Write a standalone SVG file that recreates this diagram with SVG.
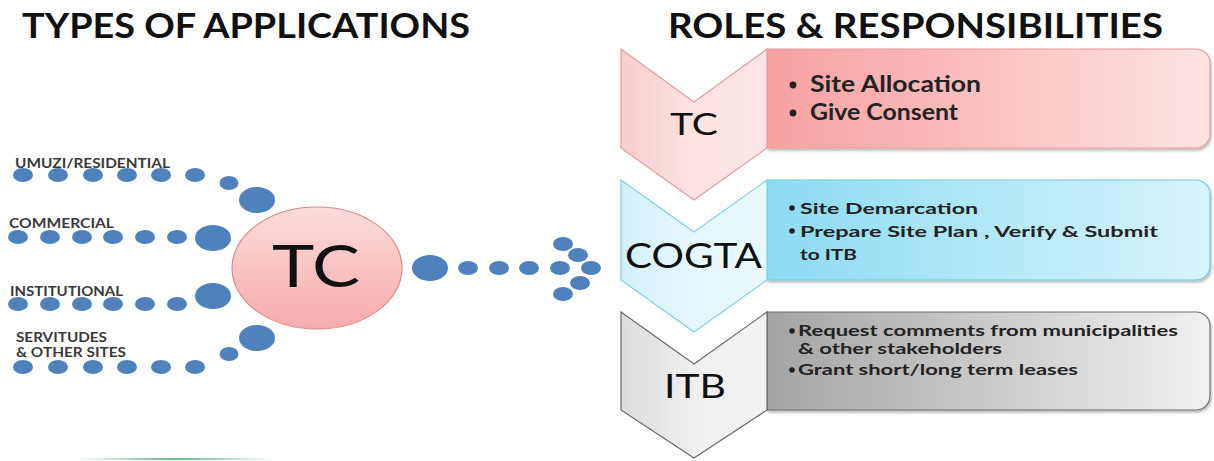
<svg xmlns="http://www.w3.org/2000/svg" width="1214" height="461" viewBox="0 0 1214 461">
  <style>
    .title { font-family: Lato, "Open Sans", "Liberation Sans", sans-serif; font-weight: 700; font-size: 34px; fill: #111; }
    .cat { font-family: Lato, "Liberation Sans", sans-serif; font-weight: 700; font-size: 12.4px; fill: #3a3a3a; }
    .chev-label { font-family: Lato, "Open Sans", "Liberation Sans", sans-serif; font-weight: 400; fill: #111; }
    .item { font-family: Lato, "Liberation Sans", sans-serif; font-weight: 700; fill: #222; }
    .dot { fill: #4f81bd; }
    .bullet { fill: #222; }
  </style>
  <defs>
    <linearGradient id="tcBody" x1="0" y1="0" x2="0" y2="1">
      <stop offset="0" stop-color="#fcdcdc"/>
      <stop offset="1" stop-color="#f6abab"/>
    </linearGradient>
    <linearGradient id="redChev" x1="0" y1="0" x2="1" y2="0">
      <stop offset="0" stop-color="#f9cdcd"/>
      <stop offset="0.5" stop-color="#fde3e3"/>
      <stop offset="1" stop-color="#fde5e5"/>
    </linearGradient>
    <linearGradient id="redBox" x1="0" y1="0" x2="1" y2="0">
      <stop offset="0" stop-color="#f7a0a0"/>
      <stop offset="1" stop-color="#fde3e3"/>
    </linearGradient>
    <linearGradient id="blueChev" x1="0" y1="0" x2="1" y2="0">
      <stop offset="0" stop-color="#d2f0f9"/>
      <stop offset="0.5" stop-color="#e6f8fd"/>
      <stop offset="1" stop-color="#e9f9fd"/>
    </linearGradient>
    <linearGradient id="blueBox" x1="0" y1="0" x2="1" y2="0">
      <stop offset="0" stop-color="#8cdbf3"/>
      <stop offset="1" stop-color="#d8f4fc"/>
    </linearGradient>
    <linearGradient id="greyChev" x1="0" y1="0" x2="1" y2="0">
      <stop offset="0" stop-color="#dcdcdc"/>
      <stop offset="0.5" stop-color="#efefef"/>
      <stop offset="1" stop-color="#f2f2f2"/>
    </linearGradient>
    <linearGradient id="greyBox" x1="0" y1="0" x2="1" y2="0">
      <stop offset="0" stop-color="#a4a4a4"/>
      <stop offset="1" stop-color="#f1f1f1"/>
    </linearGradient>
    <linearGradient id="floorLine" x1="0" y1="0" x2="1" y2="0">
      <stop offset="0" stop-color="#3aa56e" stop-opacity="0"/>
      <stop offset="0.5" stop-color="#3aa56e" stop-opacity="0.8"/>
      <stop offset="1" stop-color="#3aa56e" stop-opacity="0"/>
    </linearGradient>
    <filter id="shadow" x="-5%" y="-10%" width="110%" height="130%">
      <feDropShadow dx="1" dy="2" stdDeviation="1.5" flood-color="#000" flood-opacity="0.3"/>
    </filter>
  </defs>

  <rect width="1214" height="461" fill="#ffffff"/>

  <!-- headings -->
  <text class="title" x="22" y="38" textLength="448" lengthAdjust="spacingAndGlyphs">TYPES OF APPLICATIONS</text>
  <text class="title" x="668" y="38" textLength="495" lengthAdjust="spacingAndGlyphs">ROLES &amp; RESPONSIBILITIES</text>

  <!-- application categories -->
  <g id="cat-residential">
    <text class="cat" x="15" y="168" textLength="155" lengthAdjust="spacingAndGlyphs">UMUZI/RESIDENTIAL</text>
  </g>
  <g id="cat-commercial">
    <text class="cat" x="9" y="228" textLength="105" lengthAdjust="spacingAndGlyphs">COMMERCIAL</text>
  </g>
  <g id="cat-institutional">
    <text class="cat" x="10" y="296" textLength="113" lengthAdjust="spacingAndGlyphs">INSTITUTIONAL</text>
  </g>
  <g id="cat-servitudes">
    <text class="cat" x="16" y="342" textLength="91" lengthAdjust="spacingAndGlyphs">SERVITUDES</text>
    <text class="cat" x="16" y="357" textLength="110" lengthAdjust="spacingAndGlyphs">&amp; OTHER SITES</text>
  </g>

  <!-- dotted trails -->
  <g id="connectors">
    <!-- residential trail -->
    <ellipse class="dot" cx="23" cy="175" rx="10" ry="7"/>
    <ellipse class="dot" cx="58" cy="175" rx="10" ry="7"/>
    <ellipse class="dot" cx="93" cy="175" rx="10" ry="7"/>
    <ellipse class="dot" cx="127" cy="175" rx="10" ry="7"/>
    <ellipse class="dot" cx="161" cy="175" rx="10" ry="7"/>
    <ellipse class="dot" cx="195" cy="175" rx="10" ry="7"/>
    <ellipse class="dot" cx="229" cy="183" rx="9.5" ry="7"/>
    <ellipse class="dot" cx="257" cy="200" rx="18" ry="13"/>
    <!-- commercial trail -->
    <ellipse class="dot" cx="18" cy="237" rx="10" ry="7"/>
    <ellipse class="dot" cx="50" cy="237" rx="10" ry="7"/>
    <ellipse class="dot" cx="82" cy="237" rx="10" ry="7"/>
    <ellipse class="dot" cx="113" cy="237" rx="10" ry="7"/>
    <ellipse class="dot" cx="145" cy="237" rx="10" ry="7"/>
    <ellipse class="dot" cx="177" cy="237" rx="10" ry="7"/>
    <ellipse class="dot" cx="213" cy="238" rx="18" ry="13"/>
    <!-- institutional trail -->
    <ellipse class="dot" cx="18" cy="304" rx="10" ry="7"/>
    <ellipse class="dot" cx="50" cy="304" rx="10" ry="7"/>
    <ellipse class="dot" cx="82" cy="304" rx="10" ry="7"/>
    <ellipse class="dot" cx="113" cy="304" rx="10" ry="7"/>
    <ellipse class="dot" cx="145" cy="304" rx="10" ry="7"/>
    <ellipse class="dot" cx="177" cy="304" rx="10" ry="7"/>
    <ellipse class="dot" cx="213" cy="296" rx="18" ry="13"/>
    <!-- servitudes trail -->
    <ellipse class="dot" cx="23" cy="367" rx="10" ry="7"/>
    <ellipse class="dot" cx="58" cy="367" rx="10" ry="7"/>
    <ellipse class="dot" cx="93" cy="367" rx="10" ry="7"/>
    <ellipse class="dot" cx="127" cy="367" rx="10" ry="7"/>
    <ellipse class="dot" cx="161" cy="367" rx="10" ry="7"/>
    <ellipse class="dot" cx="195" cy="367" rx="10" ry="7"/>
    <ellipse class="dot" cx="229" cy="354" rx="9.5" ry="7"/>
    <ellipse class="dot" cx="257" cy="338" rx="18" ry="13"/>
    <!-- outgoing dotted arrow -->
    <ellipse class="dot" cx="430" cy="268" rx="18" ry="13"/>
    <ellipse class="dot" cx="468" cy="268" rx="10" ry="7"/>
    <ellipse class="dot" cx="499" cy="268" rx="10" ry="7"/>
    <ellipse class="dot" cx="529" cy="268" rx="10" ry="7"/>
    <ellipse class="dot" cx="560" cy="268" rx="10" ry="7"/>
    <ellipse class="dot" cx="591" cy="268" rx="10" ry="7"/>
    <ellipse class="dot" cx="563" cy="244" rx="10" ry="7"/>
    <ellipse class="dot" cx="578" cy="255" rx="10" ry="7"/>
    <ellipse class="dot" cx="580" cy="283" rx="10" ry="7"/>
    <ellipse class="dot" cx="563" cy="294" rx="10" ry="7"/>
  </g>

  <!-- central hub -->
  <g id="hub-tc">
    <ellipse cx="317" cy="268" rx="85" ry="61" fill="url(#tcBody)" stroke="#d88a8a" stroke-width="1.2"/>
    <text x="316" y="287" text-anchor="middle" font-family="Lato, Open Sans, Liberation Sans, sans-serif" font-size="58" fill="#111" textLength="88" lengthAdjust="spacingAndGlyphs">TC</text>
  </g>

  <!-- ITB stage -->
  <g id="role-itb">
    <path d="M767,312 H1196 A14,14 0 0 1 1210,326 V396 A14,14 0 0 1 1196,410 H767 Z" fill="url(#greyBox)" stroke="#6f6f6f" stroke-width="1.2" filter="url(#shadow)"/>
    <polygon points="621,312 694,364 767,312 767,410 694,458 621,410" fill="url(#greyChev)" stroke="#6a6a6a" stroke-width="1.2"/>
    <text class="chev-label" x="664" y="398" font-size="32" textLength="62" lengthAdjust="spacingAndGlyphs">ITB</text>
    <circle class="bullet" cx="792" cy="331" r="2.8"/>
    <text class="item" x="798" y="336" font-size="14.9" textLength="380" lengthAdjust="spacingAndGlyphs">Request comments from municipalities</text>
    <text class="item" x="798" y="354" font-size="14.9" textLength="204" lengthAdjust="spacingAndGlyphs">&amp; other stakeholders</text>
    <circle class="bullet" cx="792" cy="370" r="2.8"/>
    <text class="item" x="798" y="375" font-size="14.9" textLength="280" lengthAdjust="spacingAndGlyphs">Grant short/long term leases</text>
  </g>

  <!-- COGTA stage -->
  <g id="role-cogta">
    <path d="M767,180 H1196 A14,14 0 0 1 1210,194 V266 A14,14 0 0 1 1196,280 H767 Z" fill="url(#blueBox)" stroke="#6fcbe4" stroke-width="1.2" filter="url(#shadow)"/>
    <polygon points="621,180 694,232 767,180 767,280 694,332 621,280" fill="url(#blueChev)" stroke="#7fd0e6" stroke-width="1.2"/>
    <text class="chev-label" x="625" y="268" font-size="34" textLength="137" lengthAdjust="spacingAndGlyphs">COGTA</text>
    <circle class="bullet" cx="792" cy="208" r="2.8"/>
    <text class="item" x="800" y="214" font-size="16" textLength="178" lengthAdjust="spacingAndGlyphs">Site Demarcation</text>
    <circle class="bullet" cx="792" cy="231" r="2.8"/>
    <text class="item" x="800" y="237" font-size="16" textLength="358" lengthAdjust="spacingAndGlyphs">Prepare Site Plan , Verify &amp; Submit</text>
    <text class="item" x="800" y="260" font-size="16" textLength="57" lengthAdjust="spacingAndGlyphs">to ITB</text>
  </g>

  <!-- TC stage -->
  <g id="role-tc">
    <path d="M767,49 H1196 A14,14 0 0 1 1210,63 V134 A14,14 0 0 1 1196,148 H767 Z" fill="url(#redBox)" stroke="#e99a9a" stroke-width="1.2" filter="url(#shadow)"/>
    <polygon points="621,49 694,102 767,49 767,148 694,200 621,148" fill="url(#redChev)" stroke="#e59a9a" stroke-width="1.2"/>
    <text class="chev-label" x="670" y="135" font-size="30" textLength="48" lengthAdjust="spacingAndGlyphs">TC</text>
    <circle class="bullet" cx="793" cy="85" r="3.4"/>
    <text class="item" x="810" y="92" font-size="22" textLength="171" lengthAdjust="spacingAndGlyphs">Site Allocation</text>
    <circle class="bullet" cx="793" cy="113" r="3.4"/>
    <text class="item" x="810" y="120" font-size="22" textLength="148" lengthAdjust="spacingAndGlyphs">Give Consent</text>
  </g>

  <!-- faint floor line -->
  <rect x="77" y="458" width="196" height="2" fill="url(#floorLine)"/>
</svg>
